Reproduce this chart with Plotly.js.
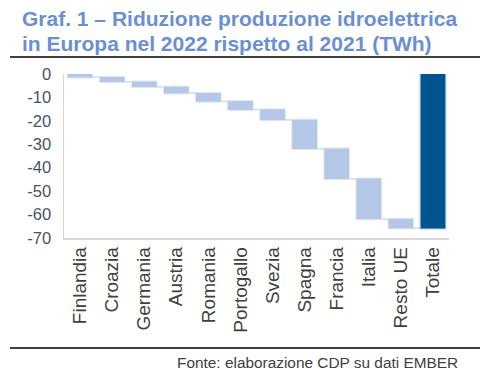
<!DOCTYPE html>
<html>
<head>
<meta charset="utf-8">
<script src="https://cdn.plot.ly/plotly-3.0.1.min.js"></script>
<style>html,body{margin:0;padding:0;background:#fff;}#chart{width:497px;height:377px;}</style>
</head>
<body>
<div id="chart"></div>
<script>
const categories = ["Finlandia","Croazia","Germania","Austria","Romania","Portogallo","Svezia","Spagna","Francia","Italia","Resto UE","Totale"];
const deltas = [-1.4, -1.9, -2.2, -2.7, -3.5, -3.5, -4.4, -12.3, -12.8, -17.2, -3.9, 0];
const measures = ["relative","relative","relative","relative","relative","relative","relative","relative","relative","relative","relative","total"];
const yTicks = [0, -10, -20, -30, -40, -50, -60, -70];
const titleLines = ["Graf. 1 – Riduzione produzione idroelettrica", "in Europa nel 2022 rispetto al 2021 (TWh)"];
const sourceText = "Fonte: elaborazione CDP su dati EMBER";

const L = 64, T = 74, W = 385, H = 164;
const px = x => (x - L) / W;
const py = y => (T + H - y) / H;

const trace = {
  type: 'waterfall',
  x: categories,
  y: deltas,
  measure: measures,
  textinfo: 'none',
  decreasing: {marker: {color: '#b4c7e7', line: {color: '#dfe8f5', width: 1}}},
  increasing: {marker: {color: '#b4c7e7', line: {color: '#dfe8f5', width: 1}}},
  totals: {marker: {color: '#00558f', line: {color: '#9dc0e4', width: 1}}},
  connector: {line: {color: '#d9d9d9', width: 1.5}},
  hoverinfo: 'none'
};

const titleFont = {size: 21, color: '#6b8fd4', family: 'Liberation Sans, Arial, sans-serif'};

const layout = {
  width: 497, height: 377,
  margin: {l: L, r: 497 - L - W, t: T, b: 377 - T - H},
  paper_bgcolor: '#fff', plot_bgcolor: '#fff',
  showlegend: false,
  bargap: 0.2,
  font: {family: 'Liberation Sans, Arial, sans-serif', color: '#404040'},
  xaxis: {
    type: 'category',
    range: [-0.5, 11.5],
    tickangle: -90,
    ticks: '',
    showline: true, linecolor: '#d9d9d9', linewidth: 1.5,
    showgrid: false, zeroline: false,
    tickfont: {size: 19, color: '#404040'},
    ticklabelstandoff: 0,
    fixedrange: true
  },
  yaxis: {
    range: [-70, 0],
    tickvals: yTicks,
    ticktext: yTicks.map(String),
    ticks: '',
    showline: true, linecolor: '#d9d9d9', linewidth: 1.5,
    showgrid: false, zeroline: false,
    tickfont: {size: 16.5, color: '#44546a'},
    ticklabelstandoff: 8,
    fixedrange: true
  },
  shapes: [
    {type: 'line', xref: 'paper', yref: 'paper', x0: px(10), x1: px(480), y0: py(57), y1: py(57), line: {color: '#000', width: 1.5}},
    {type: 'line', xref: 'paper', yref: 'paper', x0: px(10), x1: px(480), y0: py(348), y1: py(348), line: {color: '#000', width: 1.5}}
  ],
  annotations: [
    {xref: 'paper', yref: 'paper', x: px(20), y: py(19), xanchor: 'left', yanchor: 'middle',
     text: '<b>' + titleLines[0] + '</b>', showarrow: false, font: titleFont},
    {xref: 'paper', yref: 'paper', x: px(20), y: py(43), xanchor: 'left', yanchor: 'middle',
     text: '<b>' + titleLines[1] + '</b>', showarrow: false, font: titleFont},
    {xref: 'paper', yref: 'paper', x: px(460), y: py(362), xanchor: 'right', yanchor: 'middle',
     text: sourceText, showarrow: false,
     font: {size: 15.4, color: '#404040', family: 'Liberation Sans, Arial, sans-serif'}}
  ]
};

Plotly.newPlot('chart', [trace], layout, {displayModeBar: false, staticPlot: true});
</script>
</body>
</html>
